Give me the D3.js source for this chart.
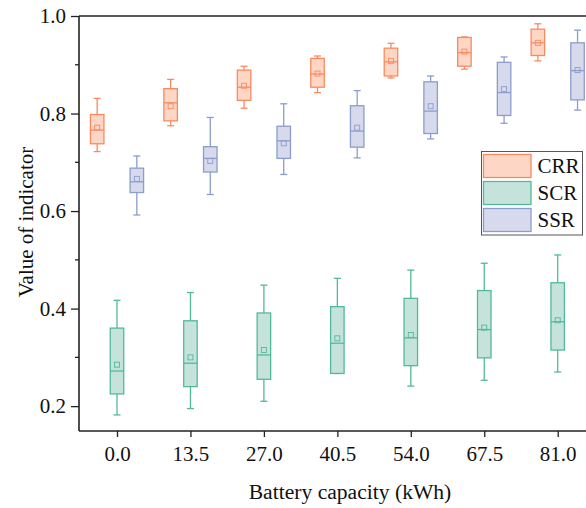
<!DOCTYPE html>
<html><head><meta charset="utf-8">
<script src="https://cdn.jsdelivr.net/npm/d3@7"></script>
<style>body{margin:0;background:#fff}svg{display:block}</style>
</head><body><svg id="c" width="586" height="508"></svg>
<script>
const categories = ["0.0","13.5","27.0","40.5","54.0","67.5","81.0"];
const seriesNames = ["CRR","SCR","SSR"];
// each: [whiskerLow, q1, median, q3, whiskerHigh, mean]
const CRR = [
  [0.722,0.738,0.766,0.798,0.831,0.771],
  [0.775,0.785,0.822,0.851,0.870,0.815],
  [0.811,0.827,0.854,0.889,0.897,0.857],
  [0.843,0.854,0.881,0.913,0.918,0.882],
  [0.873,0.877,0.906,0.934,0.944,0.908],
  [0.891,0.897,0.925,0.956,0.957,0.927],
  [0.908,0.919,0.945,0.973,0.984,0.945]
];
const SCR = [
  [0.182,0.225,0.272,0.360,0.417,0.285],
  [0.195,0.240,0.288,0.375,0.433,0.300],
  [0.210,0.255,0.305,0.391,0.448,0.315],
  [0.267,0.267,0.329,0.404,0.462,0.339],
  [0.241,0.283,0.340,0.421,0.479,0.346],
  [0.253,0.299,0.357,0.437,0.493,0.361],
  [0.270,0.315,0.373,0.453,0.510,0.376]
];
const SSR = [
  [0.592,0.638,0.660,0.688,0.713,0.666],
  [0.634,0.680,0.708,0.732,0.792,0.703],
  [0.675,0.708,0.744,0.774,0.820,0.739],
  [0.709,0.731,0.764,0.816,0.847,0.771],
  [0.748,0.759,0.805,0.865,0.877,0.815],
  [0.780,0.796,0.843,0.905,0.916,0.850],
  [0.807,0.828,0.888,0.945,0.971,0.889]
];
const yTicks = [0.2,0.4,0.6,0.8,1.0];
const yMinorTicks = [0.3,0.5,0.7,0.9];
const xTitle = "Battery capacity (kWh)";
const yTitle = "Value of indicator";

const strokes = {CRR:"#FA8A5E", SCR:"#52B99B", SSR:"#8C9DCB"};
const fills = {CRR:"#FDD6C6", SCR:"#C5E3DA", SSR:"#D6DAEC"};
const data = {CRR, SCR, SSR};
const font = "'Liberation Serif','Times New Roman',serif";

const svg = d3.select("#c");
const L = 79, T = 16, B = 431, R = 600;
const x = d3.scalePoint().domain(categories).range([117, 557.7]);
const y = d3.scaleLinear().domain([0.149, 1.0]).range([B, T]);
const off = d3.scaleOrdinal().domain(seriesNames).range([-x.step()*0.27, 0, x.step()*0.27]);
const bw = 13.5, cw = 7, ms = 5;

// boxes
seriesNames.forEach(s => {
  const g = svg.append("g");
  data[s].forEach((d, i) => {
    const cx = x(categories[i]) + off(s);
    const [lo, q1, med, q3, hi, mean] = d;
    const c = strokes[s];
    g.append("line").attr("x1", cx).attr("x2", cx).attr("y1", y(hi)).attr("y2", y(q3)).attr("stroke", c).attr("stroke-width", 1.3);
    g.append("line").attr("x1", cx).attr("x2", cx).attr("y1", y(q1)).attr("y2", y(lo)).attr("stroke", c).attr("stroke-width", 1.3);
    g.append("line").attr("x1", cx-cw/2).attr("x2", cx+cw/2).attr("y1", y(hi)).attr("y2", y(hi)).attr("stroke", c).attr("stroke-width", 1.3);
    g.append("line").attr("x1", cx-cw/2).attr("x2", cx+cw/2).attr("y1", y(lo)).attr("y2", y(lo)).attr("stroke", c).attr("stroke-width", 1.3);
    g.append("rect").attr("x", cx-bw/2).attr("y", y(q3)).attr("width", bw).attr("height", y(q1)-y(q3))
      .attr("fill", fills[s]).attr("stroke", c).attr("stroke-width", 1.3);
    g.append("line").attr("x1", cx-bw/2).attr("x2", cx+bw/2).attr("y1", y(med)).attr("y2", y(med)).attr("stroke", c).attr("stroke-width", 1.3);
    g.append("rect").attr("x", cx-ms/2).attr("y", y(mean)-ms/2).attr("width", ms).attr("height", ms)
      .attr("fill", "none").attr("stroke", c).attr("stroke-width", 0.9);
  });
});

// axes
const axCol = "#222";
const xAxis = svg.append("g").attr("transform", `translate(0,${B})`)
  .call(d3.axisBottom(x).tickSize(6).tickPadding(9));
xAxis.select(".domain").remove();
xAxis.selectAll(".tick line").attr("stroke", axCol).attr("stroke-width", 1.3);
xAxis.selectAll(".tick text").attr("font-family", font).attr("font-size", 21).attr("fill", "#111");

const yAxis = svg.append("g").attr("transform", `translate(${L},0)`)
  .call(d3.axisLeft(y).tickValues(yTicks).tickFormat(d3.format(".1f")).tickSize(8).tickPadding(5));
yAxis.select(".domain").remove();
yAxis.selectAll(".tick line").attr("stroke", axCol).attr("stroke-width", 1.3);
yAxis.selectAll(".tick text").attr("font-family", font).attr("font-size", 21).attr("fill", "#111");
svg.append("g").selectAll("line").data(yMinorTicks).join("line")
  .attr("x1", L-4).attr("x2", L).attr("y1", d => y(d)).attr("y2", d => y(d))
  .attr("stroke", axCol).attr("stroke-width", 1.3);

svg.append("line").attr("x1", L).attr("x2", L).attr("y1", T).attr("y2", B).attr("stroke", axCol).attr("stroke-width", 1.6);
svg.append("line").attr("x1", L).attr("x2", R).attr("y1", B).attr("y2", B).attr("stroke", axCol).attr("stroke-width", 1.6);
svg.append("line").attr("x1", L).attr("x2", R).attr("y1", T).attr("y2", T).attr("stroke", axCol).attr("stroke-width", 1.6);

svg.append("text").attr("x", 350).attr("y", 499).attr("text-anchor", "middle")
  .attr("font-family", font).attr("font-size", 21.6).attr("fill", "#111").text(xTitle);
svg.append("text").attr("transform", "translate(33,222) rotate(-90)").attr("text-anchor", "middle")
  .attr("font-family", font).attr("font-size", 21).attr("fill", "#111").text(yTitle);

// legend
const lg = svg.append("g").attr("transform", "translate(481.5,151.5)");
lg.append("rect").attr("width", 101).attr("height", 83.5).attr("fill", "#fff").attr("stroke", "#555").attr("stroke-width", 1);
seriesNames.forEach((s, i) => {
  lg.append("rect").attr("x", 2).attr("y", 3 + i*27).attr("width", 47.5).attr("height", 23)
    .attr("fill", fills[s]).attr("stroke", strokes[s]).attr("stroke-width", 1.3);
  lg.append("text").attr("x", 56).attr("y", 14.5 + i*27).attr("dominant-baseline", "central")
    .attr("font-family", font).attr("font-size", 21).attr("fill", "#111").text(s);
});
</script></body></html>
